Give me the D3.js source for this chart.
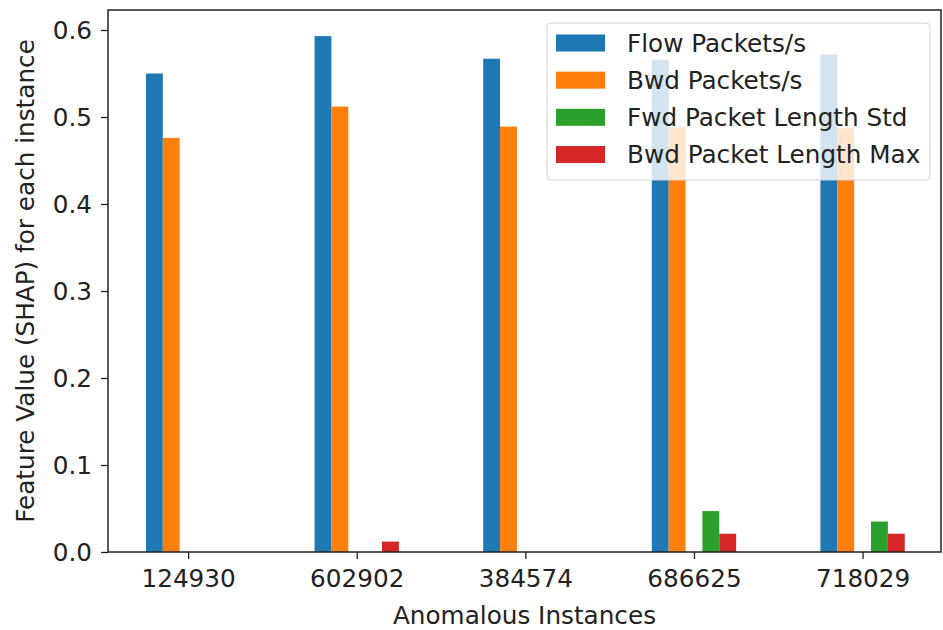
<!DOCTYPE html>
<html>
<head>
<meta charset="utf-8">
<script src="https://cdn.jsdelivr.net/npm/d3@7"></script>
<style>
  html, body { margin: 0; padding: 0; background: #fff; }
  svg { display: block; font-family: "DejaVu Sans", sans-serif; }
</style>
</head>
<body>
<svg id="chart" width="943" height="630"></svg>
<script>
// Anomalous instances shown on the x axis
const instances = ["124930", "602902", "384574", "686625", "718029"];

// Feature names (one series per feature)
const features = ["Flow Packets/s", "Bwd Packets/s", "Fwd Packet Length Std", "Bwd Packet Length Max"];

// SHAP feature values per instance, one array per feature
const flowPackets   = [0.550, 0.593, 0.567, 0.566, 0.572];
const bwdPackets    = [0.476, 0.512, 0.489, 0.488, 0.487];
const fwdLenStd     = [0.000, 0.000, 0.000, 0.047, 0.035];
const bwdLenMax     = [0.000, 0.012, 0.000, 0.021, 0.021];

const yTicks = [0.0, 0.1, 0.2, 0.3, 0.4, 0.5, 0.6];

const seriesValues = [flowPackets, bwdPackets, fwdLenStd, bwdLenMax];
const colors = ["#1f77b4", "#ff7f0e", "#2ca02c", "#d62728"];
// slot of each feature inside a group (the centre slot stays empty)
const slots = [-2, -1, 1, 2];

const plot = { left: 108, right: 941, top: 10, bottom: 552 };
const fontSize = 24.7;
const textColor = "#222";

const svg = d3.select("#chart");

// x: instance index -> pixel, y: SHAP value -> pixel
const x = d3.scaleLinear().domain([-0.475, instances.length - 1 + 0.465]).range([plot.left, plot.right]);
const y = d3.scaleLinear().domain([0, 0.623]).range([plot.bottom, plot.top]);
const barW = 0.1; // in category units

// bars
const barData = [];
seriesValues.forEach((vals, s) => {
  vals.forEach((v, i) => barData.push({ s, i, v }));
});

svg.append("g").selectAll("rect")
  .data(barData.filter(d => d.v > 0))
  .join("rect")
  .attr("x", d => x(d.i + slots[d.s] * barW - barW / 2))
  .attr("width", d => x(d.i + slots[d.s] * barW + barW / 2) - x(d.i + slots[d.s] * barW - barW / 2))
  .attr("y", d => y(d.v))
  .attr("height", d => y(0) - y(d.v))
  .attr("fill", d => colors[d.s]);

// y axis
const yAxis = d3.axisLeft(y).tickValues(yTicks).tickFormat(d3.format(".1f")).tickSize(7).tickPadding(9);
const gy = svg.append("g").attr("transform", `translate(${plot.left},0)`).call(yAxis);
gy.select(".domain").remove();
gy.selectAll("line").attr("stroke", textColor).attr("stroke-width", 1.3);
gy.selectAll("text").attr("fill", textColor).style("font-size", fontSize + "px")
  .style("font-family", "DejaVu Sans").attr("dy", "0.36em");

// x axis
const xAxis = d3.axisBottom(x).tickValues(d3.range(instances.length))
  .tickFormat(i => instances[i]).tickSize(7).tickPadding(5);
const gx = svg.append("g").attr("transform", `translate(0,${plot.bottom})`).call(xAxis);
gx.select(".domain").remove();
gx.selectAll("line").attr("stroke", textColor).attr("stroke-width", 1.3);
gx.selectAll("text").attr("fill", textColor).style("font-size", fontSize + "px")
  .style("font-family", "DejaVu Sans").attr("dy", "0.93em");

// frame
svg.append("rect")
  .attr("x", plot.left).attr("y", plot.top)
  .attr("width", plot.right - plot.left).attr("height", plot.bottom - plot.top)
  .attr("fill", "none").attr("stroke", textColor).attr("stroke-width", 1.5);

// axis titles
svg.append("text")
  .attr("x", (plot.left + plot.right) / 2).attr("y", 624)
  .attr("text-anchor", "middle").attr("fill", textColor)
  .style("font-size", fontSize + "px")
  .text("Anomalous Instances");

svg.append("text")
  .attr("transform", `translate(34,${(plot.top + plot.bottom) / 2}) rotate(-90)`)
  .attr("text-anchor", "middle").attr("fill", textColor)
  .style("font-size", fontSize + "px")
  .text("Feature Value (SHAP) for each instance");

// legend (semi-transparent box)
const legend = svg.append("g");
legend.append("rect")
  .attr("x", 547).attr("y", 23).attr("width", 383).attr("height", 157)
  .attr("rx", 4).attr("ry", 4)
  .attr("fill", "#fff").attr("fill-opacity", 0.8)
  .attr("stroke", "#d4d4d4").attr("stroke-width", 1);

const rowY = d3.scaleLinear().domain([0, features.length - 1]).range([43, 154.5]);
features.forEach((f, k) => {
  legend.append("rect")
    .attr("x", 556).attr("y", rowY(k) - 8.5)
    .attr("width", 49).attr("height", 17)
    .attr("fill", colors[k]);
  legend.append("text")
    .attr("x", 627).attr("y", rowY(k) + 8.8)
    .attr("fill", textColor)
    .style("font-size", fontSize + "px")
    .text(f);
});
</script>
</body>
</html>
